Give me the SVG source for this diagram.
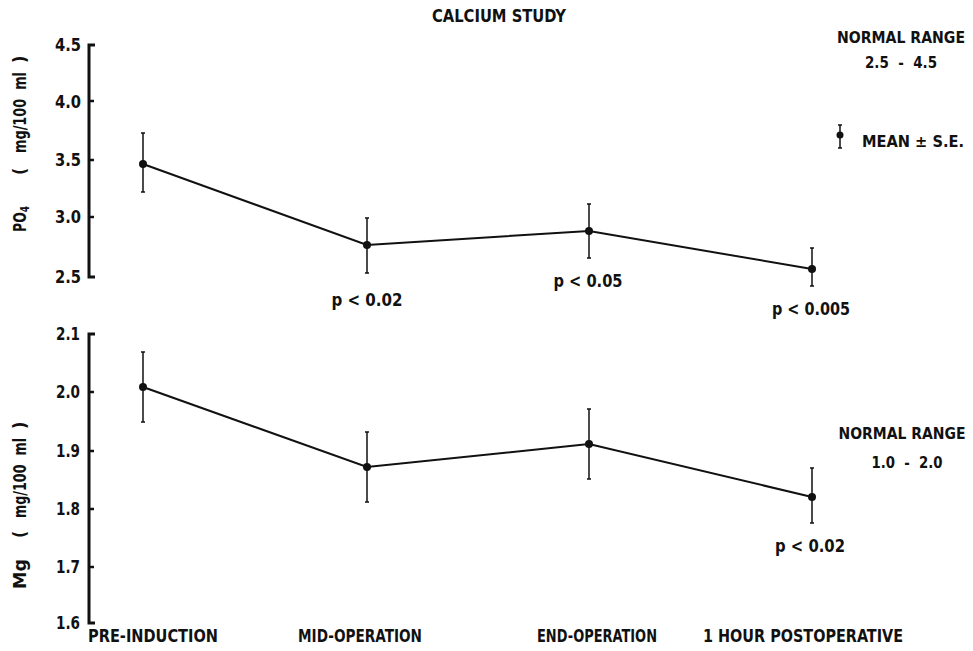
<svg xmlns="http://www.w3.org/2000/svg" width="973" height="651" viewBox="0 0 973 651">
<style>
text{font-family:"DejaVu Sans Condensed","Liberation Sans",sans-serif;font-size:18px;font-weight:bold;fill:#111;white-space:pre}
.tk{text-anchor:end}
.mid{text-anchor:middle}
.lg{font-size:16px}
.axis{stroke:#111;stroke-width:3;fill:none}
.tick{stroke:#111;stroke-width:2.5;fill:none}
.data{stroke:#111;stroke-width:2;fill:none}
.err{stroke:#111;stroke-width:1.5;fill:none}
.dot{fill:#111}
</style>
<rect width="973" height="651" fill="#fff"/>
<text x="499" y="22" class="mid" font-size="19" textLength="134" lengthAdjust="spacingAndGlyphs">CALCIUM STUDY</text>

<g id="top-axis">
<path class="axis" d="M95,45 H89 V277 H95"/>
<path class="tick" d="M89,101 H94 M89,160 H94 M89,217 H94"/>
<text x="81" y="51" class="tk" textLength="26" lengthAdjust="spacingAndGlyphs">4.5</text>
<text x="81" y="108" class="tk" textLength="26" lengthAdjust="spacingAndGlyphs">4.0</text>
<text x="81" y="166" class="tk" textLength="26" lengthAdjust="spacingAndGlyphs">3.5</text>
<text x="81" y="223" class="tk" textLength="26" lengthAdjust="spacingAndGlyphs">3.0</text>
<text x="81" y="283" class="tk" textLength="26" lengthAdjust="spacingAndGlyphs">2.5</text>
<g transform="translate(26,0) rotate(-90)">
<text x="-232" y="0" font-size="19" textLength="26" lengthAdjust="spacingAndGlyphs">PO<tspan font-size="13" dy="3">4</tspan></text>
<text x="-175" y="0">(</text>
<text x="-153" y="0" font-size="19" textLength="81" lengthAdjust="spacingAndGlyphs">mg/100  ml</text>
<text x="-63" y="0">)</text>
</g>
</g>

<g id="bottom-axis">
<path class="axis" d="M95,334 H89 V623 H95"/>
<path class="tick" d="M89,392 H94 M89,451 H94 M89,509 H94 M89,567 H94"/>
<text x="80" y="340" class="tk" textLength="24" lengthAdjust="spacingAndGlyphs">2.1</text>
<text x="80" y="398" class="tk" textLength="24" lengthAdjust="spacingAndGlyphs">2.0</text>
<text x="80" y="457" class="tk" textLength="24" lengthAdjust="spacingAndGlyphs">1.9</text>
<text x="80" y="515" class="tk" textLength="24" lengthAdjust="spacingAndGlyphs">1.8</text>
<text x="80" y="573" class="tk" textLength="24" lengthAdjust="spacingAndGlyphs">1.7</text>
<text x="80" y="629" class="tk" textLength="24" lengthAdjust="spacingAndGlyphs">1.6</text>
<g transform="translate(26,0) rotate(-90)">
<text x="-589" y="0" font-size="19" textLength="30" lengthAdjust="spacingAndGlyphs">Mg</text>
<text x="-538" y="0">(</text>
<text x="-518" y="0" font-size="19" textLength="80" lengthAdjust="spacingAndGlyphs">mg/100  ml</text>
<text x="-429" y="0">)</text>
</g>
</g>

<g id="connectors">
<polyline class="data" points="143,164 367,245 589,231 812,269"/>
<polyline class="data" points="143,387 367,467 589,444 812,497"/>
</g>

<g id="po4-points">
<path class="err" d="M143,133 V192 M141,133 H145 M141,192 H145"/><circle class="dot" cx="143" cy="164" r="4"/>
<path class="err" d="M367,218 V273 M365,218 H369 M365,273 H369"/><circle class="dot" cx="367" cy="245" r="4"/>
<path class="err" d="M589,204 V258 M587,204 H591 M587,258 H591"/><circle class="dot" cx="589" cy="231" r="4"/>
<path class="err" d="M812,248 V286 M810,248 H814 M810,286 H814"/><circle class="dot" cx="812" cy="269" r="4"/>
</g>

<g id="mg-points">
<path class="err" d="M143,352 V422 M141,352 H145 M141,422 H145"/><circle class="dot" cx="143" cy="387" r="4"/>
<path class="err" d="M367,432 V502 M365,432 H369 M365,502 H369"/><circle class="dot" cx="367" cy="467" r="4"/>
<path class="err" d="M589,409 V479 M587,409 H591 M587,479 H591"/><circle class="dot" cx="589" cy="444" r="4"/>
<path class="err" d="M812,468 V523 M810,468 H814 M810,523 H814"/><circle class="dot" cx="812" cy="497" r="4"/>
</g>

<g id="p-values">
<text x="367" y="306" class="mid" font-size="19" textLength="71" lengthAdjust="spacingAndGlyphs">p &lt; 0.02</text>
<text x="588" y="287" class="mid" font-size="19" textLength="69" lengthAdjust="spacingAndGlyphs">p &lt; 0.05</text>
<text x="811" y="315" class="mid" font-size="19" textLength="78" lengthAdjust="spacingAndGlyphs">p &lt; 0.005</text>
<text x="810" y="552" class="mid" font-size="19" textLength="70" lengthAdjust="spacingAndGlyphs">p &lt; 0.02</text>
</g>

<g id="legend-top">
<text x="901" y="43" class="mid lg" textLength="128" lengthAdjust="spacingAndGlyphs">NORMAL RANGE</text>
<text x="901" y="68" class="mid lg" textLength="72" lengthAdjust="spacingAndGlyphs">2.5  -  4.5</text>
<path class="err" d="M840,125 V148 M838,125 H842 M838,148 H842"/><circle class="dot" cx="840" cy="135" r="3.5"/>
<text x="862" y="147" class="lg" textLength="102" lengthAdjust="spacingAndGlyphs">MEAN ± S.E.</text>
</g>

<g id="legend-bottom">
<text x="902" y="439" class="mid lg" textLength="127" lengthAdjust="spacingAndGlyphs">NORMAL RANGE</text>
<text x="907" y="468" class="mid lg" textLength="71" lengthAdjust="spacingAndGlyphs">1.0  -  2.0</text>
</g>

<g id="x-labels">
<text x="88" y="642" textLength="130" lengthAdjust="spacingAndGlyphs">PRE-INDUCTION</text>
<text x="298" y="642" textLength="124" lengthAdjust="spacingAndGlyphs">MID-OPERATION</text>
<text x="537" y="642" textLength="120" lengthAdjust="spacingAndGlyphs">END-OPERATION</text>
<text x="703" y="642" textLength="200" lengthAdjust="spacingAndGlyphs">1 HOUR POSTOPERATIVE</text>
</g>
</svg>
